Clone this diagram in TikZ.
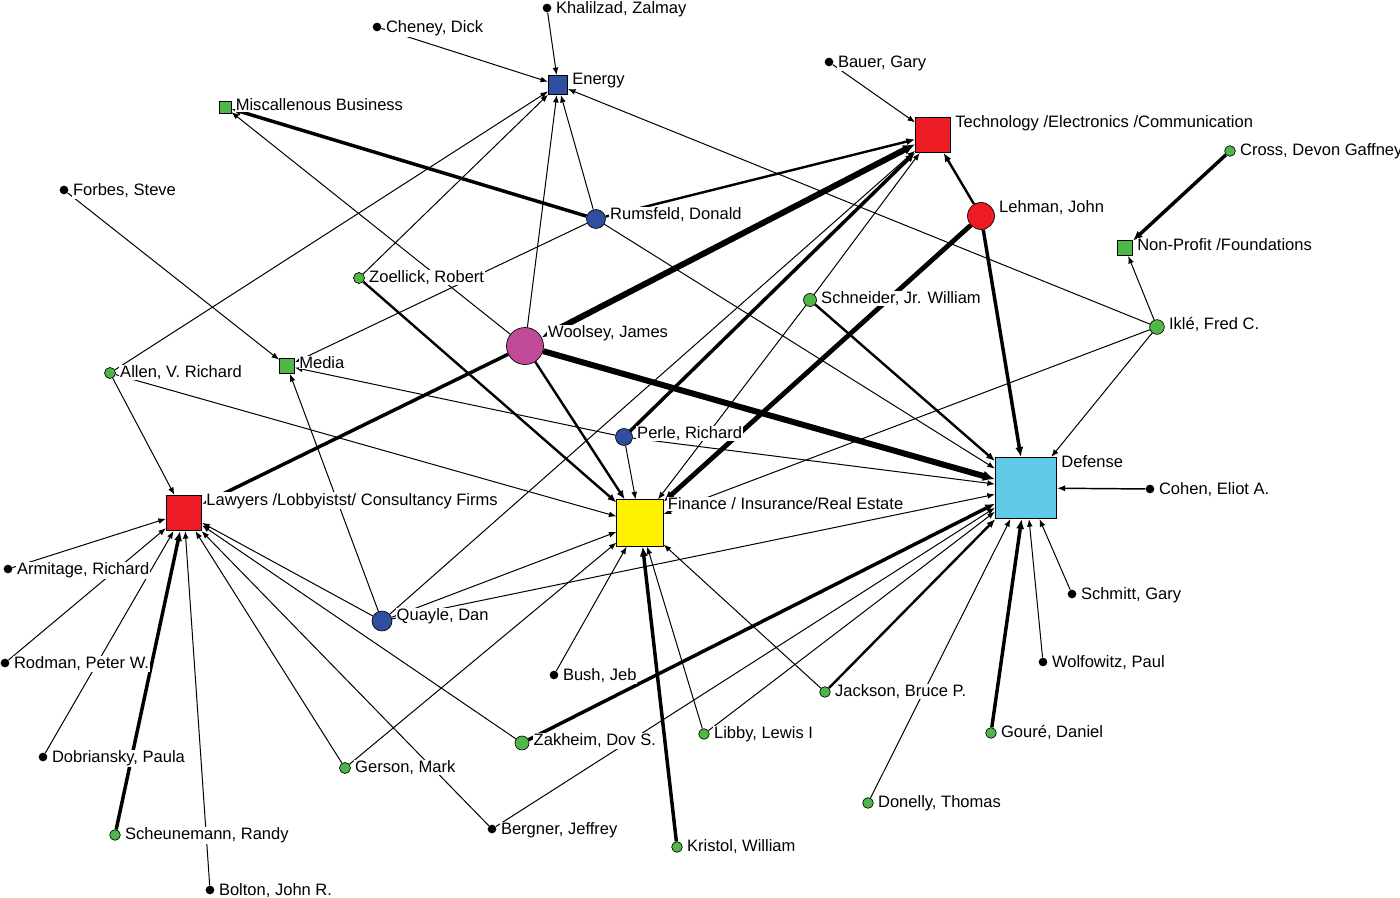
\documentclass[tikz,border=0pt]{standalone}
\usepackage{fontspec}
\setmainfont{Liberation Sans}
\usetikzlibrary{arrows.meta}
\definecolor{nodeblue}{RGB}{48,78,160}
\definecolor{nodered}{RGB}{237,28,36}
\definecolor{nodegreen}{RGB}{80,182,72}
\definecolor{nodepink}{RGB}{190,74,152}
\definecolor{nodecyan}{RGB}{96,202,232}
\definecolor{nodeyellow}{RGB}{255,242,0}
\newcommand{\lblfont}{\fontsize{12.4}{14}\selectfont}

\begin{document}
\begin{tikzpicture}[x=0.75pt,y=-0.75pt,
  >={Latex[length=5pt 0.9,width=3.6pt 1]},
  sq/.style={rectangle,draw=black,line width=0.6pt,inner sep=0pt,minimum size=#1},
  dot/.style={circle,draw=black,line width=0.5pt,inner sep=0pt,minimum size=#1},
  bdot/.style={circle,fill=black,inner sep=0pt,minimum size=6.5pt},
  lbl/.style={anchor=north west,fill=white,inner sep=0.6pt,xshift=2.5pt,yshift=2.1pt,font=\lblfont},
  e1/.style={->,line width=0.75pt},
  e2/.style={->,line width=1.8pt},
  e3/.style={->,line width=2.6pt},
  e4/.style={->,line width=3.6pt},
  e5/.style={->,line width=4.5pt}]
\useasboundingbox (0,0) rectangle (1400,898);
% sectors
\node[sq=14.25pt,fill=nodeblue] (en) at (558,85) {};
\node[sq=9pt,fill=nodegreen] (misc) at (225,107) {};
\node[sq=26.25pt,fill=nodered] (tech) at (933,135) {};
\node[sq=11.25pt,fill=nodegreen] (np) at (1125,248) {};
\node[sq=11.25pt,fill=nodegreen] (med) at (287,366) {};
\node[sq=46pt,fill=nodecyan] (def) at (1026,488) {};
\node[sq=26.5pt,fill=nodered] (law) at (184,513) {};
\node[sq=34.75pt,fill=nodeyellow] (fin) at (640,523) {};
% people
\node[bdot] (khal) at (547,8) {};
\node[bdot] (cheney) at (377,27) {};
\node[bdot] (bauer) at (829,62) {};
\node[dot=8pt,fill=nodegreen] (cross) at (1230,151) {};
\node[bdot] (forbes) at (64,190) {};
\node[dot=14.25pt,fill=nodeblue] (rums) at (596,219) {};
\node[dot=20.25pt,fill=nodered] (lehman) at (981,216) {};
\node[dot=8.25pt,fill=nodegreen] (zoel) at (359,278) {};
\node[dot=9.75pt,fill=nodegreen] (schn) at (810,300) {};
\node[dot=11pt,fill=nodegreen] (ikle) at (1157,327) {};
\node[dot=27.75pt,fill=nodepink] (wool) at (525,346) {};
\node[dot=8.25pt,fill=nodegreen] (allen) at (110,373) {};
\node[dot=12.75pt,fill=nodeblue] (perle) at (624,437) {};
\node[bdot] (cohen) at (1150,489) {};
\node[bdot] (armi) at (8,569) {};
\node[bdot] (schmitt) at (1072,594) {};
\node[dot=15pt,fill=nodeblue] (quayle) at (382,621) {};
\node[bdot] (rodman) at (5,663) {};
\node[bdot] (wolf) at (1043,662) {};
\node[bdot] (bush) at (554,675) {};
\node[dot=8pt,fill=nodegreen] (jackson) at (825,692) {};
\node[dot=8pt,fill=nodegreen] (libby) at (704,734) {};
\node[dot=8pt,fill=nodegreen] (goure) at (991,733) {};
\node[dot=10.5pt,fill=nodegreen] (zak) at (522,743) {};
\node[bdot] (dobr) at (43,757) {};
\node[dot=8.25pt,fill=nodegreen] (gerson) at (345,768) {};
\node[dot=8pt,fill=nodegreen] (donelly) at (868,803) {};
\node[bdot] (bergner) at (492,829) {};
\node[dot=8pt,fill=nodegreen] (scheun) at (115,835) {};
\node[dot=8pt,fill=nodegreen] (kristol) at (677,847) {};
\node[bdot] (bolton) at (210,890) {};
% Energy
\draw[e1] (khal) -- (en);
\draw[e1] (cheney) -- (en);
\draw[e1] (allen) -- (en);
\draw[e1] (zoel) -- (en);
\draw[e1] (wool) -- (en);
\draw[e1] (rums) -- (en);
\draw[e1] (ikle) -- (en);
% Miscallenous Business
\draw[e3] (rums) -- (misc);
\draw[e1] (wool) -- (misc);
% Media
\draw[e1] (forbes) -- (med);
\draw[e1] (quayle) -- (med);
\draw[e1] (rums) -- (med);
\draw[e1] (perle) -- (med);
% Technology
\draw[e1] (bauer) -- (tech);
\draw[e2] (rums) -- (tech);
\draw[e5,<->] (wool) -- (tech);
\draw[e2] (lehman) -- (tech);
\draw[e3] (perle) -- (tech);
\draw[e1] (quayle) -- (tech);
\draw[e1] (schn) -- (tech);
% Non-Profit
\draw[e3] (cross) -- (np);
\draw[e1] (ikle) -- (np);
% Defense
\draw[e3] (lehman) -- (def);
\draw[e1] (ikle) -- (def);
\draw[e1,line width=1.1pt] (cohen) -- (def);
\draw[e1] (rums) -- (def);
\draw[e2] (schn) -- (def);
\draw[e5] (wool) -- (def);
\draw[e1] (perle) -- (def);
\draw[e1] (quayle) -- (def);
\draw[e3] (zak) -- (def);
\draw[e1] (libby) -- (def);
\draw[e1] (bergner) -- (def);
\draw[e2] (jackson) -- (def);
\draw[e1] (donelly) -- (def);
\draw[e3] (goure) -- (def);
\draw[e1] (wolf) -- (def);
\draw[e1] (schmitt) -- (def);
% Finance
\draw[e2] (zoel) -- (fin);
\draw[e2] (wool) -- (fin);
\draw[e1] (perle) -- (fin);
\draw[e1] (schn) -- (fin);
\draw[e4] (lehman) -- (fin);
\draw[e1] (ikle) -- (fin);
\draw[e1] (allen) -- (fin);
\draw[e1] (quayle) -- (fin);
\draw[e1] (gerson) -- (fin);
\draw[e1] (bush) -- (fin);
\draw[e3] (kristol) -- (fin);
\draw[e1] (libby) -- (fin);
\draw[e1] (jackson) -- (fin);
% Lawyers
\draw[e1] (allen) -- (law);
\draw[e3] (wool) -- (law);
\draw[e1] (armi) -- (law);
\draw[e1] (rodman) -- (law);
\draw[e1] (dobr) -- (law);
\draw[e3] (scheun) -- (law);
\draw[e1] (bolton) -- (law);
\draw[e1] (gerson) -- (law);
\draw[e1] (bergner) -- (law);
\draw[e1] (zak) -- (law);
\draw[e1] (quayle) -- (law);
% labels
\node[lbl] (en-l) at (en.north -| en.east) {Energy};
\node[lbl] (misc-l) at (misc.north -| misc.east) {Miscallenous Business};
\node[lbl] (tech-l) at (tech.north -| tech.east) {Technology /Electronics /Communication};
\node[lbl] (np-l) at (np.north -| np.east) {Non-Profit /Foundations};
\node[lbl] (med-l) at (med.north -| med.east) {Media};
\node[lbl] (def-l) at (def.north -| def.east) {Defense};
\node[lbl] (law-l) at (law.north -| law.east) {Lawyers /Lobbyistst/ Consultancy Firms};
\node[lbl] (fin-l) at (fin.north -| fin.east) {Finance / Insurance/Real Estate};
\node[lbl] (khal-l) at (khal.north -| khal.east) {Khalilzad, Zalmay};
\node[lbl] (cheney-l) at (cheney.north -| cheney.east) {Cheney, Dick};
\node[lbl] (bauer-l) at (bauer.north -| bauer.east) {Bauer, Gary};
\node[lbl] (cross-l) at (cross.north -| cross.east) {Cross, Devon Gaffney};
\node[lbl] (forbes-l) at (forbes.north -| forbes.east) {Forbes, Steve};
\node[lbl] (rums-l) at (rums.north -| rums.east) {Rumsfeld, Donald};
\node[lbl] (lehman-l) at (lehman.north -| lehman.east) {Lehman, John};
\node[lbl] (zoel-l) at (zoel.north -| zoel.east) {Zoellick, Robert};
\node[lbl] (schn-l) at (schn.north -| schn.east) {Schneider, Jr. William};
\node[lbl] (ikle-l) at (ikle.north -| ikle.east) {Iklé, Fred C.};
\node[lbl] (wool-l) at (wool.north -| wool.east) {Woolsey, James};
\node[lbl] (allen-l) at (allen.north -| allen.east) {Allen, V. Richard};
\node[lbl] (perle-l) at (perle.north -| perle.east) {Perle, Richard};
\node[lbl] (cohen-l) at (cohen.north -| cohen.east) {Cohen, Eliot A.};
\node[lbl] (armi-l) at (armi.north -| armi.east) {Armitage, Richard};
\node[lbl] (schmitt-l) at (schmitt.north -| schmitt.east) {Schmitt, Gary};
\node[lbl] (quayle-l) at (quayle.north -| quayle.east) {Quayle, Dan};
\node[lbl] (rodman-l) at (rodman.north -| rodman.east) {Rodman, Peter W.};
\node[lbl] (wolf-l) at (wolf.north -| wolf.east) {Wolfowitz, Paul};
\node[lbl] (bush-l) at (bush.north -| bush.east) {Bush, Jeb};
\node[lbl] (jackson-l) at (jackson.north -| jackson.east) {Jackson, Bruce P.};
\node[lbl] (libby-l) at (libby.north -| libby.east) {Libby, Lewis I};
\node[lbl] (goure-l) at (goure.north -| goure.east) {Gouré, Daniel};
\node[lbl] (zak-l) at (zak.north -| zak.east) {Zakheim, Dov S.};
\node[lbl] (dobr-l) at (dobr.north -| dobr.east) {Dobriansky, Paula};
\node[lbl] (gerson-l) at (gerson.north -| gerson.east) {Gerson, Mark};
\node[lbl] (donelly-l) at (donelly.north -| donelly.east) {Donelly, Thomas};
\node[lbl] (bergner-l) at (bergner.north -| bergner.east) {Bergner, Jeffrey};
\node[lbl] (scheun-l) at (scheun.north -| scheun.east) {Scheunemann, Randy};
\node[lbl] (kristol-l) at (kristol.north -| kristol.east) {Kristol, William};
\node[lbl] (bolton-l) at (bolton.north -| bolton.east) {Bolton, John R.};
\end{tikzpicture}
\end{document}
